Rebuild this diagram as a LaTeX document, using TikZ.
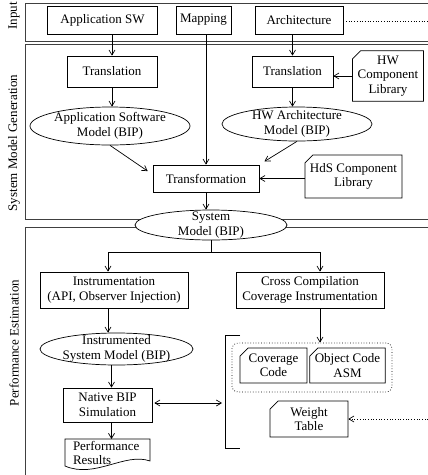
\documentclass[tikz,border=0pt]{standalone}
\usepackage{fontspec}
\setmainfont{Liberation Serif}
\usetikzlibrary{arrows.meta,shapes.geometric,shapes.misc}
\begin{document}
\begin{tikzpicture}[x=1pt,y=-1pt,
  every node/.style={font=\fontsize{13}{14.5}\selectfont, align=center},
  frame/.style={draw=black!75, line width=0.9pt},
  box/.style={draw, line width=0.7pt, rectangle, inner sep=1pt, fill=white},
  card/.style={draw, line width=0.7pt, chamfered rectangle, chamfered rectangle corners=north west,
    chamfered rectangle xsep=4pt, chamfered rectangle ysep=4pt, inner sep=1pt, fill=white},
  ell/.style={draw, line width=0.7pt, ellipse, fill=white, inner sep=0pt},
  txt/.style={inner sep=0pt},
  side/.style={rotate=90, inner sep=0pt},
  arr/.style={line width=0.7pt, -{Straight Barb[length=5pt,width=6pt]}},
  dbl/.style={line width=0.7pt, {Straight Barb[length=5pt,width=6pt]}-{Straight Barb[length=5pt,width=6pt]}},
  con/.style={line width=0.7pt},
  dots/.style={line width=0.7pt, dotted}
]
\useasboundingbox (0,0) rectangle (428,475);

% frames
\draw[frame] (428,3) -- (25,3) -- (25,41) -- (428,41);
\draw[frame] (428,44) -- (25,44) -- (25,219) -- (428,219);
\draw[frame] (428,227) -- (25,227) -- (25,476);

% side labels
\node[side] (lin) at (14,16) {Input};
\node[side] (lsmg) at (14,143) {System Model Generation};
\node[side] (lpe) at (14,343) {Performance Estimation};

% input row
\node[box, minimum width=110pt, minimum height=28pt] (appsw) at (102.5,20) {Application SW};
\node[box, minimum width=55pt, minimum height=28pt] (mapping) at (203.5,20) {Mapping};
\node[box, minimum width=88pt, minimum height=28pt] (arch) at (299,20) {Architecture};
\coordinate (archout) at (428,21);

% system model generation
\node[box, minimum width=90pt, minimum height=31pt] (trl) at (112,71.5) {Translation};
\node[box, minimum width=81pt, minimum height=31pt] (trr) at (292.5,71.5) {Translation};
\node[card, minimum width=71pt, minimum height=46pt] (hwlib) at (388,76) {HW\\Component\\Library};
\node[ell, minimum width=160pt, minimum height=38pt] (ellL) at (110,126) {};
\node[txt] (ellLt) at (ellL.center) {Application Software\\Model (BIP)};
\node[ell, minimum width=150pt, minimum height=34pt] (ellR) at (297,124) {};
\node[txt] (ellRt) at (ellR.center) {HW Architecture\\Model (BIP)};
\node[box, minimum width=106pt, minimum height=27pt] (trans) at (206,178.5) {Transformation};
\node[card, minimum width=97pt, minimum height=43pt] (hds) at (353.5,176.5) {HdS Component\\Library};
\node[ell, minimum width=152pt, minimum height=30pt] (sys) at (211,225) {};
\node[txt] (syst) at (sys.center) {System\\Model (BIP)};

% performance estimation
\node[box, minimum width=148pt, minimum height=36pt] (instr) at (114,290) {Instrumentation\\(API, Observer Injection)};
\node[box, minimum width=148pt, minimum height=36pt] (cc) at (310,290) {Cross Compilation\\Coverage Instrumentation};
\node[ell, minimum width=153pt, minimum height=32pt] (iell) at (116.5,349) {};
\node[txt] (iellt) at (iell.center) {Instrumented\\System Model (BIP)};
\node[box, minimum width=89pt, minimum height=34pt] (native) at (107.5,405) {Native BIP\\Simulation};
\node[inner xsep=8pt, inner ysep=2pt, text width=69pt, align=left, anchor=north] (perf) at (107.5,439) {Performance\\Results};
\draw[con] (65,439) -- (150,439) -- (150,461) .. controls (125,452) and (95,479) .. (65,466) -- cycle;

\node[draw, dots, rounded corners=6pt, minimum width=160pt, minimum height=49pt] (grp) at (312,367.5) {};
\node[card, minimum width=67pt, minimum height=35pt] (cov) at (273.5,365.5) {Coverage\\Code};
\node[card, minimum width=71pt, minimum height=35pt] (obj) at (347.5,365.5) {Object Code\\ASM};
\node[card, minimum width=78pt, minimum height=36pt] (weight) at (309,419) {Weight\\Table};
\coordinate (wtin) at (428,419);

% bracket
\coordinate (brt) at (240,335);
\coordinate (brb) at (240,448);
\coordinate (brm) at (225,403);
\draw[con] (brt) -- (225,335) -- (225,448) -- (brb);

% connectors: input -> generation
\draw[arr] (appsw.south -| trl.north) -- (trl.north);
\draw[arr] (arch.south -| trr.north) -- (trr.north);
\draw[dots] (arch.east |- archout) -- (archout);
\draw[arr] (hwlib.west) -- (hwlib.west -| trr.east);
\draw[arr] (trl.south) -- (trl.south |- ellL.north);
\draw[arr] (trr.south) -- (trr.south |- ellR.north);
\draw[arr] (mapping.south -| trans.north) -- (trans.north);
\draw[arr, shorten >=6pt] (ellL.south) -- ([yshift=4pt]trans.west);
\draw[arr, shorten >=6pt] (ellR.south) -- (trans.north east);
\draw[arr] (hds.west |- trans.east) -- (trans.east);
\draw[arr] (trans.south) -- (trans.south |- sys.north);

% connectors: estimation
\coordinate (split) at (211,252);
\draw[con] (sys.south) -- (split);
\draw[arr] (split) -| ([xshift=-6pt]instr.north);
\draw[arr] (split) -| ([xshift=10pt]cc.north);
\draw[arr] ([xshift=-6pt]instr.south) -- ([xshift=-6pt]instr.south |- iell.north);
\draw[arr] ([xshift=4pt]native.north |- iell.south) -- ([xshift=4pt]native.north);
\draw[arr] ([xshift=4pt]native.south) -- ([xshift=4pt]native.south |- perf.north);
\draw[arr] ([xshift=10pt]cc.south) -- ([xshift=10pt]cc.south |- grp.north);
\draw[dbl, shorten >=3pt, shorten <=2pt] (native.east |- brm) -- (brm);
\draw[dots, -{Straight Barb[length=5pt,width=6pt]}] (wtin) -- (weight.east);
\end{tikzpicture}
\end{document}
